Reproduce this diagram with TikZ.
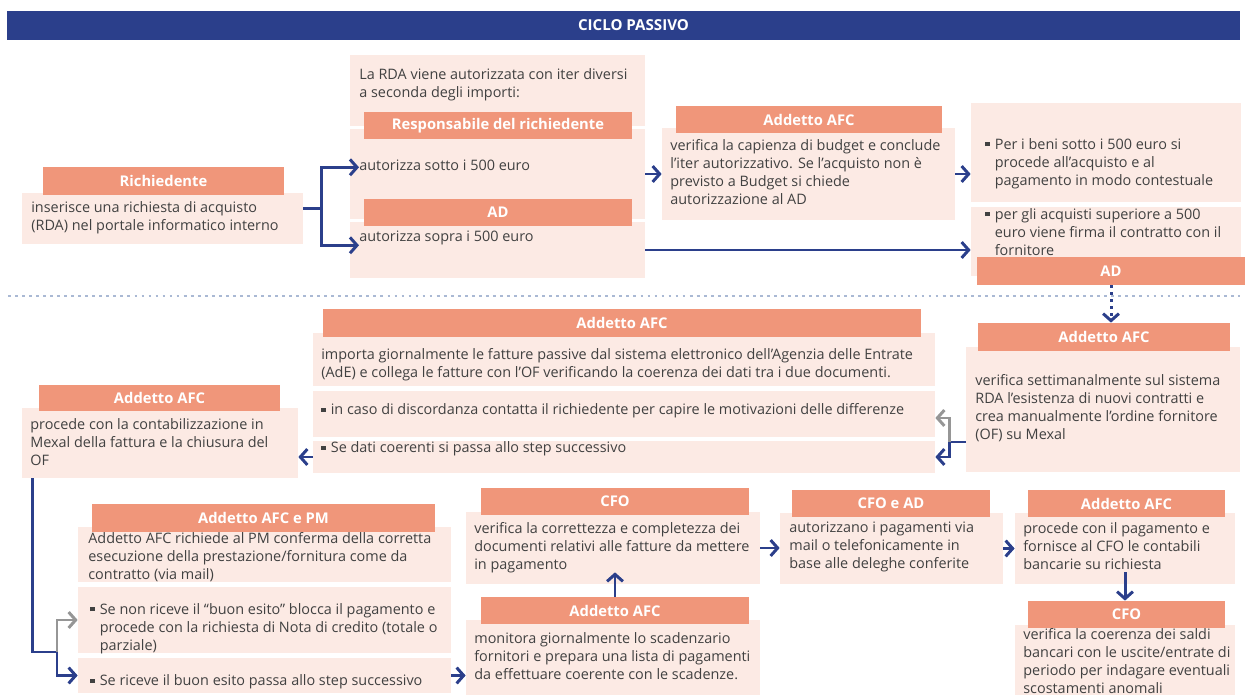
\documentclass[tikz,border=0pt]{standalone}
\usepackage{fontspec}
\setmainfont{Open Sans}
\usetikzlibrary{fit,arrows.meta}
\definecolor{navy}{RGB}{43,63,139}
\definecolor{salmon}{RGB}{240,150,122}
\definecolor{blush}{RGB}{252,234,228}
\definecolor{ink}{RGB}{65,65,65}
\definecolor{greyarr}{RGB}{150,150,150}
\definecolor{dotline}{RGB}{170,185,212}
\newcommand{\blt}{\rule[1.8pt]{2.4pt}{2.4pt}\hspace{3pt}}
\newcommand{\bind}{\hspace*{5.4pt}}

\begin{document}
\begin{tikzpicture}[x=0.02cm, y=-0.02cm,
    hdrlbl/.style = {inner sep=0pt, text=white, font=\bfseries\fontsize{8.4}{10}\selectfont},
    hdr/.style = {fill=salmon, inner sep=0pt, label={[hdrlbl]center:#1}},
    body/.style = {fill=blush, inner sep=0pt},
    txt/.style = {anchor=north west, inner sep=0pt, align=left, text=ink, font=\fontsize{8.2}{10.2}\selectfont, execute at begin node=\strut},
    arr/.style = {draw=navy, line width=1.7pt, -{Straight Barb[length=4pt,width=9pt]}},
    arrg/.style = {arr, draw=greyarr},
    line/.style = {draw=navy, line width=1.7pt}]
    \useasboundingbox (0,0) rectangle (1245,695);
    \clip (0,0) rectangle (1245,695);

    \node[fill=navy, inner sep=0pt, fit={(7,11) (1240,40)}, label={[hdrlbl, xshift=0.2cm, font=\bfseries\fontsize{8.6}{10}\selectfont]center:CICLO PASSIVO}] (title) {};

    % richiesta e autorizzazione
    \node[body, fit={(22,193) (303,244)}] (richbody) {};
    \node[hdr=Richiedente, fit={(43,167) (284,195)}] (richhdr) {};
    \node[txt] (richtxt) at (31,201) {inserisce una richiesta di acquisto\\(RDA) nel portale informatico interno};

    \node[body, fit={(350,55) (645,126)}] (rda1) {};
    \node[body, fit={(350,129) (645,219)}] (rda2) {};
    \node[body, fit={(350,222) (645,278)}] (rda3) {};
    \node[hdr=Responsabile del richiedente, fit={(364,112) (632,139)}] (resphdr) {};
    \node[hdr=AD, fit={(364,199) (632,226)}] (adhdr1) {};
    \node[txt] (rdatxt) at (359,68) {La RDA viene autorizzata con iter diversi\\a seconda degli importi:};
    \node[txt] (sotto) at (359,158) {autorizza sotto i 500 euro};
    \node[txt] (sopra) at (359,229) {autorizza sopra i 500 euro};

    \node[body, fit={(662,128) (955,220)}] (afc1body) {};
    \node[hdr=Addetto AFC, fit={(676,106) (942,133)}] (afc1hdr) {};
    \node[txt] (afc1txt) at (670,139) {verifica la capienza di budget e conclude\\l’iter autorizzativo. Se l’acquisto non è\\previsto a Budget si chiede\\autorizzazione al AD};

    \node[body, fit={(971,103) (1241,202)}] (rt1) {};
    \node[body, fit={(971,207) (1241,276)}] (rt2) {};
    \node[txt] (rt1txt) at (985,138) {\blt Per i beni sotto i 500 euro si\\\bind procede all’acquisto e al\\\bind pagamento in modo contestuale};
    \node[txt] (rt2txt) at (985,208) {\blt per gli acquisti superiore a 500\\\bind euro viene firma il contratto con il\\\bind fornitore};
    \node[hdr=AD, fit={(977,257) (1245,285)}] (adhdr2) {};

    \draw[arr] ([yshift=0.2cm]richbody.east) -- ++(18,0) |- (sotto.west);
    \draw[arr] ([yshift=0.2cm]richbody.east) -- ++(18,0) |- ([yshift=-0.14cm]sopra.west);
    \draw[arr] (rda2.east) -- (rda2.east -| afc1body.west);
    \draw[arr] (afc1body.east) -- (afc1body.east -| rt1.west);
    \draw[arr] (rda3.east) -- (rda3.east -| rt2.west);

    \draw[dotline, line width=1.6pt, dash pattern=on 1.6pt off 2.4pt] (8,296) -- (1240,296);

    % registrazione ordine e fattura
    \node[body, fit={(966,347) (1240,472)}] (afc2body) {};
    \node[hdr=Addetto AFC, fit={(978,323) (1230,351)}] (afc2hdr) {};
    \node[txt] (afc2txt) at (975,374) {verifica settimanalmente sul sistema\\RDA l’esistenza di nuovi contratti e\\crea manualmente l’ordine fornitore\\(OF) su Mexal};

    \node[body, fit={(313,333) (935,386)}] (b1) {};
    \node[body, fit={(313,391) (935,437)}] (b2) {};
    \node[body, fit={(313,441) (935,473)}] (b3) {};
    \node[hdr=Addetto AFC, fit={(323,309) (921,337)}] (afc3hdr) {};
    \node[txt] (b1txt) at (321,348) {importa giornalmente le fatture passive dal sistema elettronico dell’Agenzia delle Entrate\\(AdE) e collega le fatture con l’OF verificando la coerenza dei dati tra i due documenti.};
    \node[txt] (b2txt) at (321,402) {\blt in caso di discordanza contatta il richiedente per capire le motivazioni delle differenze};
    \node[txt] (b3txt) at (321,440) {\blt Se dati coerenti si passa allo step successivo};

    \node[body, fit={(22,408) (298,478)}] (afc4body) {};
    \node[hdr=Addetto AFC, fit={(39,385) (280,411)}] (afc4hdr) {};
    \node[txt] (afc4txt) at (30,418) {procede con la contabilizzazione in\\Mexal della fattura e la chiusura del\\OF};

    \draw[navy, line width=1.7pt, dash pattern=on 1.7pt off 2.3pt, -{Straight Barb[length=4pt,width=9pt]}] (adhdr2.south) -- (adhdr2.south |- afc2hdr.north);
    \coordinate (fk2) at (949,442);
    \draw[line] (afc2body.west |- fk2) -- (fk2);
    \draw[arrg] (fk2) |- ([yshift=-0.08cm]b2.east);
    \draw[arr] (fk2) |- (b3.east);
    \draw[arr] (b3.west) -- (b3.west -| afc4body.east);

    % pagamento
    \node[body, fit={(78,527) (451,582)}] (c1) {};
    \node[body, fit={(78,587) (451,653)}] (c2) {};
    \node[body, fit={(78,658) (451,693)}] (c3) {};
    \node[hdr=Addetto AFC e PM, fit={(92,504) (435,532)}] (pmhdr) {};
    \node[txt] (c1txt) at (88,532) {Addetto AFC richiede al PM conferma della corretta\\esecuzione della prestazione/fornitura come da\\contratto (via mail)};
    \node[txt] (c2txt) at (90,603) {\blt Se non riceve il “buon esito” blocca il pagamento e\\\bind procede con la richiesta di Nota di credito (totale o\\\bind parziale)};
    \node[txt] (c3txt) at (90,673) {\blt Se riceve il buon esito passa allo step successivo};

    \node[body, fit={(466,512) (760,584)}] (cfobody) {};
    \node[hdr=CFO, fit={(481,488) (749,515)}] (cfohdr) {};
    \node[txt] (cfotxt) at (474,522) {verifica la correttezza e completezza dei\\documenti relativi alle fatture da mettere\\in pagamento};

    \node[body, fit={(466,620) (760,695)}] (monbody) {};
    \node[hdr=Addetto AFC, fit={(481,597) (749,624)}] (monhdr) {};
    \node[txt] (montxt) at (474,632) {monitora giornalmente lo scadenzario\\fornitori e prepara una lista di pagamenti\\da effettuare coerente con le scadenze.};

    \node[body, fit={(780,513) (1003,584)}] (adbody) {};
    \node[hdr=CFO e AD, fit={(792,490) (990,517)}] (adhdr3) {};
    \node[txt] (adtxt) at (789,522) {autorizzano i pagamenti via\\mail o telefonicamente in\\base alle deleghe conferite};

    \node[body, fit={(1015,513) (1235,584)}] (paybody) {};
    \node[hdr=Addetto AFC, fit={(1028,490) (1225,517)}] (payhdr) {};
    \node[txt] (paytxt) at (1023,522) {procede con il pagamento e\\fornisce al CFO le contabili\\bancarie su richiesta};

    \node[body, fit={(1015,625) (1235,695)}] (lastbody) {};
    \node[hdr=CFO, fit={(1028,601) (1225,628)}] (lasthdr) {};
    \node[txt] (lasttxt) at (1023,628) {verifica la coerenza dei saldi\\bancari con le uscite/entrate di\\periodo per indagare eventuali\\scostamenti anomali};

    \coordinate (fk3) at (57,652);
    \draw[line] ([xshift=0.22cm]afc4body.south west) |- (fk3);
    \draw[arrg] (fk3) |- (c2.west);
    \draw[arr] (fk3) |- (c3.west);
    \draw[arr] (c3.east) -- (c3.east -| monbody.west);
    \draw[arr] (monhdr.north) -- ([yshift=0.24cm]monhdr.north |- cfobody.south);
    \draw[arr] (cfobody.east) -- (cfobody.east -| adbody.west);
    \draw[arr] (adbody.east) -- (adbody.east -| paybody.west);
    \draw[arr] ([yshift=0.24cm]paybody.south) -- (paybody.south |- lasthdr.north);
\end{tikzpicture}
\end{document}
